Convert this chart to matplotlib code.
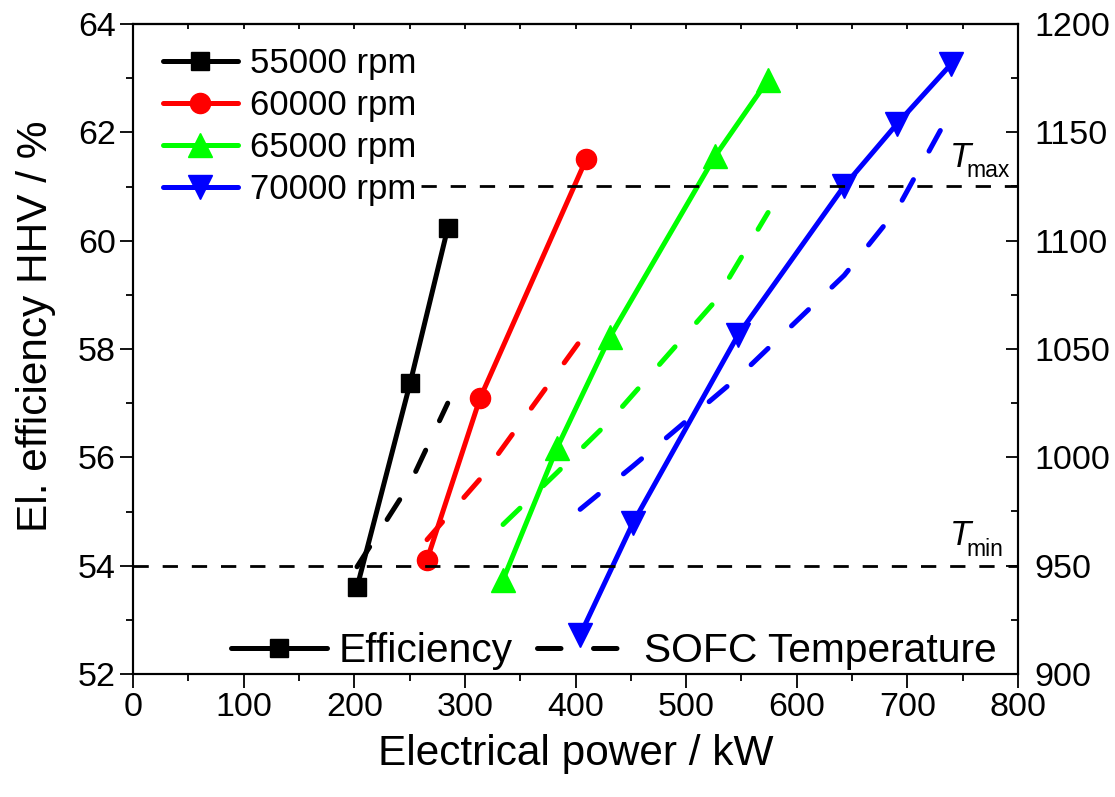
import matplotlib
matplotlib.use("Agg")
import matplotlib.pyplot as plt
from matplotlib.lines import Line2D
from matplotlib.ticker import MultipleLocator, NullFormatter

plt.rcParams['font.family'] = ['Liberation Sans', 'DejaVu Sans']

# ---------------- data ----------------
speeds = ["55000 rpm", "60000 rpm", "65000 rpm", "70000 rpm"]
colors = ["#000000", "#FF0000", "#00FF00", "#0000FF"]
markers = ["s", "o", "^", "v"]

power_55 = [202.5, 250.5, 284.5]
eff_55 = [53.60, 57.37, 60.23]
temp_55 = [949.5, 988.0, 1025.0]

power_60 = [265.8, 313.7, 409.6]
eff_60 = [54.11, 57.09, 61.50]
temp_60 = [962.0, 990.0, 1057.6]

power_65 = [334.5, 383.4, 431.3, 526.2, 574.1]
eff_65 = [53.74, 56.18, 58.23, 61.56, 62.97]
temp_65 = [969.0, 993.0, 1017.0, 1072.0, 1113.0]

power_70 = [404.2, 452.0, 547.0, 642.9, 690.8, 739.6]
eff_70 = [52.72, 54.79, 58.26, 61.01, 62.16, 63.26]
temp_70 = [976.0, 996.0, 1037.0, 1084.0, 1114.5, 1160.0]

T_min = 950
T_max = 1125

powers = [power_55, power_60, power_65, power_70]
effs = [eff_55, eff_60, eff_65, eff_70]
temps = [temp_55, temp_60, temp_65, temp_70]

# ---------------- figure ----------------
W, H = 1115, 797
fig = plt.figure(figsize=(W / 100, H / 100), dpi=100)
ax = fig.add_axes([133 / W, 1 - 674 / H, (1018 - 133) / W, (674 - 24) / H])
ax2 = ax.twinx()

LW = 3.6
DASH = (0, (4.7, 6.5))
msize = {"s": 12.5, "o": 14.5, "^": 17.5, "v": 17.5}

handles = []
for p, e, c, m, lab in zip(powers, effs, colors, markers, speeds):
    h, = ax.plot(p, e, color=c, lw=LW, marker=m, ms=msize[m], mec=c, mfc=c,
                 solid_capstyle='round', label=lab, zorder=3)
    handles.append(h)

for p, t, c in zip(powers, temps, colors):
    ax2.plot(p, t, color=c, lw=LW, ls=DASH, dash_capstyle='round', zorder=3)

# limit lines (T_max line is hidden behind the legend block on the left)
ax2.axhline(T_min, color='black', lw=2.0, ls=(0, (5.5, 5.0)), zorder=4)
ax2.axhline(T_max, xmin=0.325, color='black', lw=2.0, ls=(0, (5.5, 5.0)), zorder=4)

ax.set_xlim(0, 800)
ax.set_ylim(52, 64)
ax2.set_ylim(900, 1200)

ax.xaxis.set_major_locator(MultipleLocator(100))
ax.xaxis.set_minor_locator(MultipleLocator(50))
ax.yaxis.set_major_locator(MultipleLocator(2))
ax.yaxis.set_minor_locator(MultipleLocator(1))
ax2.yaxis.set_major_locator(MultipleLocator(50))
ax2.yaxis.set_minor_locator(MultipleLocator(25))

TS = 24.5
ax.tick_params(axis='x', which='major', direction='out', length=10, width=1.3,
               labelsize=TS, pad=3, top=False)
ax.tick_params(axis='x', which='minor', direction='out', length=5, width=1.3, top=False)
ax.tick_params(axis='y', which='major', direction='out', length=9.5, width=1.3,
               labelsize=TS, pad=3, right=False)
ax.tick_params(axis='y', which='minor', direction='out', length=5, width=1.3, right=False)
ax2.tick_params(axis='y', which='major', direction='in', length=8.5, width=1.3,
                labelsize=TS, pad=12)
ax2.tick_params(axis='y', which='minor', direction='in', length=5, width=1.3)

sec = ax.secondary_xaxis('top')
sec.xaxis.set_major_locator(MultipleLocator(50))
sec.xaxis.set_major_formatter(NullFormatter())
sec.tick_params(axis='x', which='major', direction='in', length=3.5, width=1.3)
sec.spines['top'].set_linewidth(1.5)

for a in (ax, ax2):
    for s in a.spines.values():
        s.set_linewidth(1.5)

ax.set_xlabel("Electrical power / kW", fontsize=30.5, labelpad=8)
ax.set_ylabel("El. efficiency HHV / %", fontsize=30.5)
ax.yaxis.set_label_coords(-0.087, 0.535)

# T labels
ax2.text(0.923, 0.780, "T", transform=ax.transAxes, fontsize=25, style='italic',
         ha='left', va='baseline')
ax2.text(0.942, 0.764, "max", transform=ax.transAxes, fontsize=16.5,
         ha='left', va='baseline')
ax2.text(0.923, 0.198, "T", transform=ax.transAxes, fontsize=25, style='italic',
         ha='left', va='baseline')
ax2.text(0.942, 0.1815, "min", transform=ax.transAxes, fontsize=16.5,
         ha='left', va='baseline')

# legends
leg1 = ax2.legend(handles=handles, loc='upper left', bbox_to_anchor=(0.034, 0.965),
                  frameon=False, fontsize=25, borderpad=0, borderaxespad=0,
                  handlelength=2.15, handletextpad=0.36, labelspacing=0.26)
ax2.add_artist(leg1)

h_eff = Line2D([], [], color='black', lw=LW, marker='s', ms=msize['s'],
               solid_capstyle='round')
h_tmp = Line2D([], [], color='black', lw=LW, ls=DASH, dash_capstyle='round')
leg2 = ax2.legend(handles=[h_eff, h_tmp], labels=["Efficiency", "SOFC Temperature"],
                  loc='center left', bbox_to_anchor=(0.111, 0.035), ncol=2,
                  frameon=False, fontsize=29.3, borderpad=0, borderaxespad=0,
                  handlelength=2.35, handletextpad=0.28, columnspacing=0.6)

fig.savefig("out.png", dpi=100)
